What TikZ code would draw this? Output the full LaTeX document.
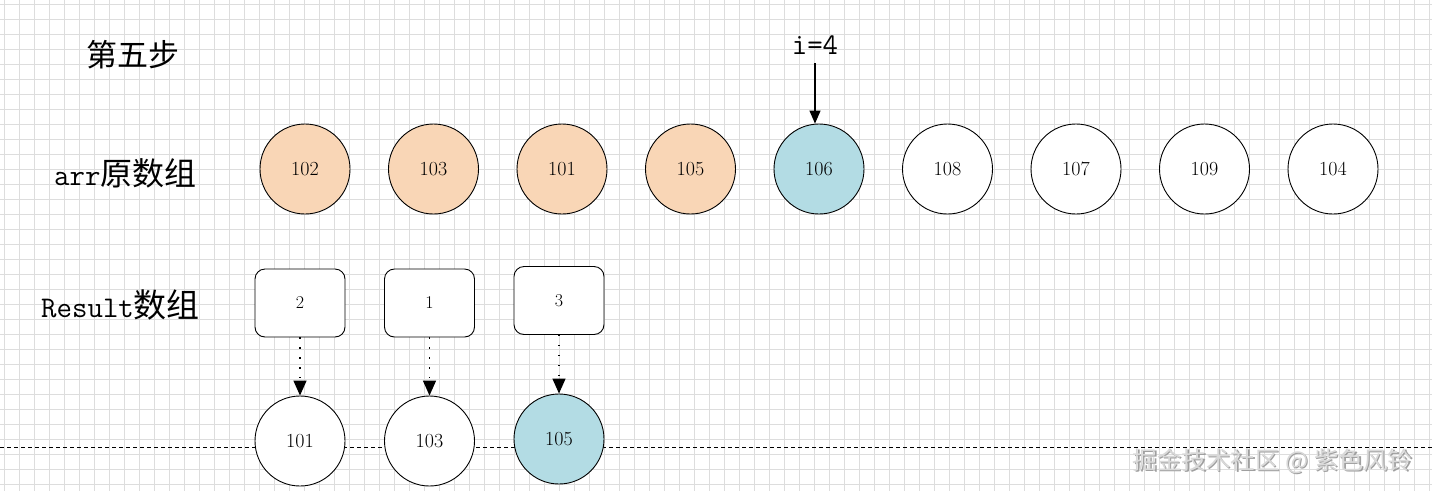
\documentclass[tikz,border=0pt]{standalone}
\usepackage{fontspec}
\newfontfamily\cjk{Noto Sans CJK SC}
\usetikzlibrary{arrows.meta}
\definecolor{peach}{HTML}{F9D6B6}
\definecolor{lblue}{HTML}{B3DCE4}
\definecolor{gridc}{HTML}{DDDDDD}
\begin{document}
\begin{tikzpicture}[x=1pt,y=-1pt,
  gridline/.style={draw=gridc,line width=0.7pt},
  elem/.style={circle,draw=black,line width=0.9pt,minimum size=90pt,inner sep=0pt,font=\fontsize{20}{20}\selectfont},
  idxbox/.style={rectangle,rounded corners=10pt,draw=black,fill=white,line width=0.9pt,minimum width=90pt,minimum height=68pt,inner sep=0pt,font=\fontsize{18}{18}\selectfont},
  lbl/.style={inner sep=0pt,anchor=base west,font=\fontsize{30}{30}\selectfont\ttfamily},
  dotarrow/.style={line width=1.4pt,dash pattern=on 1.4pt off 8.5pt,-{Triangle[length=15pt,width=13pt]}},
  ptrarrow/.style={line width=1.3pt,-{Triangle[length=13pt,width=11pt]}},
]
\useasboundingbox (0,0) rectangle (1432,491);
\fill[white] (0,0) rectangle (1432,491);
\foreach \v in {4,19,...,1432} \draw[gridline] (\v,0) -- (\v,491);
\foreach \v in {4,19,...,491} \draw[gridline] (0,\v) -- (1432,\v);

% page-break dashed line
\coordinate (dl) at (0,447);
\coordinate (dr) at (1432,447);
\draw[line width=0.8pt,dash pattern=on 4pt off 3pt] (dl) -- (dr);

% labels
\node[lbl] (step) at (86,66) {\fontsize{31}{31}\selectfont\cjk 第五步};
\node[lbl] (arrlbl) at (54,185) {arr{\fontsize{32}{32}\selectfont\cjk 原数组}};
\node[lbl] (reslbl) at (41,317) {Result{\fontsize{33}{33}\selectfont\cjk 数组}};
\node[inner sep=0pt,anchor=base,font=\fontsize{30}{30}\selectfont\ttfamily] (iptr) at (815,54) {i=4};

% original array
\node[elem,fill=peach] (a1) at (305,169) {102};
\node[elem,fill=peach] (a2) at (433.5,169) {103};
\node[elem,fill=peach] (a3) at (562,169) {101};
\node[elem,fill=peach] (a4) at (690.5,169) {105};
\node[elem,fill=lblue] (a5) at (819,169) {106};
\node[elem,fill=white] (a6) at (947.5,169) {108};
\node[elem,fill=white] (a7) at (1076,169) {107};
\node[elem,fill=white] (a8) at (1204.5,169) {109};
\node[elem,fill=white] (a9) at (1333,169) {104};

\coordinate (istart) at (815,63);
\draw[ptrarrow] (istart) -- (a5.north -| istart);

% result boxes
\node[idxbox] (b1) at (300,303) {2};
\node[idxbox] (b2) at (429.5,303) {1};
\node[idxbox] (b3) at (559,300.5) {3};

% result elements
\node[elem,fill=white] (r1) at (300,441) {101};
\node[elem,fill=white] (r2) at (429.5,441) {103};
\node[elem,fill=lblue] (r3) at (559,439) {105};

\draw[dotarrow] (b1.south) -- (r1.north);
\draw[dotarrow] (b2.south) -- (r2.north);
\draw[dotarrow] (b3.south) -- (r3.north);

% watermark
\node[inner sep=0pt,text=gray!75,font=\fontsize{24.5}{24.5}\selectfont\cjk] (wms) at (1274,462.5) {掘金技术社区 @ 紫色风铃};
\node[inner sep=0pt,text=gray!30,font=\fontsize{24.5}{24.5}\selectfont\cjk] (wm) at (1272.5,461) {掘金技术社区 @ 紫色风铃};
\end{tikzpicture}
\end{document}
